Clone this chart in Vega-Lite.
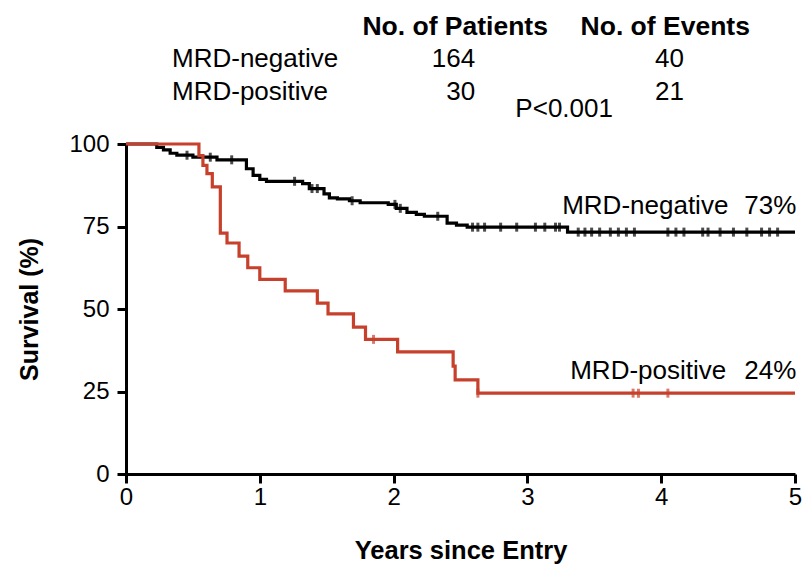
{
  "$schema": "https://vega.github.io/schema/vega-lite/v6.json",
  "autosize": {"type": "none"},
  "padding": {"left": 126, "top": 144, "right": 14, "bottom": 95},
  "width": 669,
  "height": 330,
  "background": "white",
  "config": {
    "view": {"stroke": null},
    "font": "Liberation Sans",
    "axis": {"labelFont": "Liberation Sans", "titleFont": "Liberation Sans"}
  },
  "datasets": {
    "km": [
      {"group": "MRD-negative", "t": 0, "s": 100},
      {"group": "MRD-negative", "t": 0.23, "s": 99.0},
      {"group": "MRD-negative", "t": 0.28, "s": 98.2},
      {"group": "MRD-negative", "t": 0.33, "s": 97.2},
      {"group": "MRD-negative", "t": 0.38, "s": 96.6},
      {"group": "MRD-negative", "t": 0.5, "s": 96.0},
      {"group": "MRD-negative", "t": 0.68, "s": 95.2},
      {"group": "MRD-negative", "t": 0.9, "s": 92.5},
      {"group": "MRD-negative", "t": 0.95, "s": 90.5},
      {"group": "MRD-negative", "t": 1.0, "s": 89.3},
      {"group": "MRD-negative", "t": 1.05, "s": 88.7},
      {"group": "MRD-negative", "t": 1.32, "s": 88.0},
      {"group": "MRD-negative", "t": 1.37, "s": 86.5},
      {"group": "MRD-negative", "t": 1.48, "s": 84.9},
      {"group": "MRD-negative", "t": 1.52, "s": 83.7},
      {"group": "MRD-negative", "t": 1.58, "s": 83.4},
      {"group": "MRD-negative", "t": 1.67, "s": 82.8},
      {"group": "MRD-negative", "t": 1.75, "s": 82.2},
      {"group": "MRD-negative", "t": 1.96, "s": 81.7},
      {"group": "MRD-negative", "t": 2.02, "s": 80.5},
      {"group": "MRD-negative", "t": 2.1, "s": 79.3},
      {"group": "MRD-negative", "t": 2.17, "s": 78.7},
      {"group": "MRD-negative", "t": 2.23, "s": 78.1},
      {"group": "MRD-negative", "t": 2.4, "s": 76.0},
      {"group": "MRD-negative", "t": 2.47, "s": 75.4},
      {"group": "MRD-negative", "t": 2.55, "s": 74.8},
      {"group": "MRD-negative", "t": 3.3, "s": 73.3},
      {"group": "MRD-negative", "t": 5.0, "s": 73.3},
      {"group": "MRD-positive", "t": 0, "s": 100},
      {"group": "MRD-positive", "t": 0.545, "s": 96.5},
      {"group": "MRD-positive", "t": 0.575, "s": 93.5},
      {"group": "MRD-positive", "t": 0.605, "s": 91.0},
      {"group": "MRD-positive", "t": 0.645, "s": 87.0},
      {"group": "MRD-positive", "t": 0.705, "s": 73.0},
      {"group": "MRD-positive", "t": 0.755, "s": 70.0},
      {"group": "MRD-positive", "t": 0.845, "s": 66.0},
      {"group": "MRD-positive", "t": 0.91, "s": 62.5},
      {"group": "MRD-positive", "t": 1.0, "s": 59.0},
      {"group": "MRD-positive", "t": 1.19, "s": 55.5},
      {"group": "MRD-positive", "t": 1.43, "s": 51.8},
      {"group": "MRD-positive", "t": 1.51, "s": 48.5},
      {"group": "MRD-positive", "t": 1.7, "s": 44.5},
      {"group": "MRD-positive", "t": 1.79, "s": 40.8},
      {"group": "MRD-positive", "t": 2.03, "s": 37.0},
      {"group": "MRD-positive", "t": 2.445, "s": 32.7},
      {"group": "MRD-positive", "t": 2.46, "s": 28.5},
      {"group": "MRD-positive", "t": 2.63, "s": 24.5},
      {"group": "MRD-positive", "t": 5.0, "s": 24.5}
    ],
    "cens": [
      {"group": "MRD-negative", "t": 0.456, "s": 96.6},
      {"group": "MRD-negative", "t": 0.63, "s": 96.0},
      {"group": "MRD-negative", "t": 0.79, "s": 95.2},
      {"group": "MRD-negative", "t": 1.26, "s": 88.7},
      {"group": "MRD-negative", "t": 1.39, "s": 86.5},
      {"group": "MRD-negative", "t": 1.43, "s": 86.5},
      {"group": "MRD-negative", "t": 1.69, "s": 82.8},
      {"group": "MRD-negative", "t": 2.01, "s": 81.7},
      {"group": "MRD-negative", "t": 2.05, "s": 80.5},
      {"group": "MRD-negative", "t": 2.33, "s": 78.1},
      {"group": "MRD-negative", "t": 2.59, "s": 74.8},
      {"group": "MRD-negative", "t": 2.63, "s": 74.8},
      {"group": "MRD-negative", "t": 2.68, "s": 74.8},
      {"group": "MRD-negative", "t": 2.8, "s": 74.8},
      {"group": "MRD-negative", "t": 2.92, "s": 74.8},
      {"group": "MRD-negative", "t": 3.06, "s": 74.8},
      {"group": "MRD-negative", "t": 3.13, "s": 74.8},
      {"group": "MRD-negative", "t": 3.21, "s": 74.8},
      {"group": "MRD-negative", "t": 3.24, "s": 74.8},
      {"group": "MRD-negative", "t": 3.38, "s": 73.3},
      {"group": "MRD-negative", "t": 3.43, "s": 73.3},
      {"group": "MRD-negative", "t": 3.48, "s": 73.3},
      {"group": "MRD-negative", "t": 3.54, "s": 73.3},
      {"group": "MRD-negative", "t": 3.62, "s": 73.3},
      {"group": "MRD-negative", "t": 3.68, "s": 73.3},
      {"group": "MRD-negative", "t": 3.74, "s": 73.3},
      {"group": "MRD-negative", "t": 3.8, "s": 73.3},
      {"group": "MRD-negative", "t": 4.05, "s": 73.3},
      {"group": "MRD-negative", "t": 4.11, "s": 73.3},
      {"group": "MRD-negative", "t": 4.17, "s": 73.3},
      {"group": "MRD-negative", "t": 4.31, "s": 73.3},
      {"group": "MRD-negative", "t": 4.35, "s": 73.3},
      {"group": "MRD-negative", "t": 4.44, "s": 73.3},
      {"group": "MRD-negative", "t": 4.54, "s": 73.3},
      {"group": "MRD-negative", "t": 4.64, "s": 73.3},
      {"group": "MRD-negative", "t": 4.75, "s": 73.3},
      {"group": "MRD-negative", "t": 4.81, "s": 73.3},
      {"group": "MRD-negative", "t": 4.87, "s": 73.3},
      {"group": "MRD-positive", "t": 1.85, "s": 40.8},
      {"group": "MRD-positive", "t": 2.63, "s": 24.5},
      {"group": "MRD-positive", "t": 3.79, "s": 24.5},
      {"group": "MRD-positive", "t": 3.83, "s": 24.5},
      {"group": "MRD-positive", "t": 4.05, "s": 24.5}
    ],
    "headers": [
      {"label": "No. of Patients", "t": 2.46, "s": 135.6},
      {"label": "No. of Events", "t": 4.03, "s": 135.6}
    ],
    "leftText": [
      {"label": "MRD-negative", "t": 0.344, "s": 125.8},
      {"label": "MRD-positive", "t": 0.344, "s": 115.8},
      {"label": "P<0.001", "t": 2.91, "s": 110.6},
      {"label": "MRD-negative", "t": 3.26, "s": 81.3},
      {"label": "MRD-positive", "t": 3.32, "s": 31.3}
    ],
    "rightText": [
      {"label": "164", "t": 2.61, "s": 125.8},
      {"label": "30", "t": 2.61, "s": 115.8},
      {"label": "40", "t": 4.17, "s": 125.8},
      {"label": "21", "t": 4.17, "s": 115.8},
      {"label": "73%", "t": 5.01, "s": 81.3},
      {"label": "24%", "t": 5.01, "s": 31.3}
    ]
  },
  "layer": [
    {
      "data": {"name": "km"},
      "mark": {"type": "line", "interpolate": "step-after", "strokeWidth": 3.2, "clip": false},
      "encoding": {
        "x": {
          "field": "t", "type": "quantitative",
          "scale": {"domain": [0, 5], "nice": false},
          "axis": {
            "values": [0, 1, 2, 3, 4, 5], "format": "d", "labelFlush": false, "title": "Years since Entry",
            "grid": false, "domainColor": "black", "domainWidth": 3,
            "tickColor": "black", "tickWidth": 3, "tickSize": 9,
            "labelFontSize": 24, "labelColor": "black", "labelPadding": 2,
            "titleFontSize": 25.5, "titleFontWeight": "bold", "titleColor": "black",
            "titlePadding": 29
          }
        },
        "y": {
          "field": "s", "type": "quantitative",
          "scale": {"domain": [0, 100], "nice": false},
          "axis": {
            "values": [0, 25, 50, 75, 100], "labelFlush": false, "title": "Survival (%)",
            "grid": false, "domainColor": "black", "domainWidth": 3,
            "tickColor": "black", "tickWidth": 3, "tickSize": 9,
            "labelFontSize": 24, "labelColor": "black", "labelPadding": 8,
            "titleFontSize": 25, "titleFontWeight": "bold", "titleColor": "black",
            "titlePadding": 26
          }
        },
        "color": {
          "field": "group", "type": "nominal",
          "scale": {"domain": ["MRD-negative", "MRD-positive"], "range": ["#000000", "#c6402c"]},
          "legend": null
        }
      }
    },
    {
      "data": {"name": "cens"},
      "mark": {"type": "tick", "orient": "vertical", "size": 9, "thickness": 3},
      "encoding": {
        "x": {"field": "t", "type": "quantitative"},
        "y": {"field": "s", "type": "quantitative"},
        "color": {"field": "group", "type": "nominal"}
      }
    },
    {
      "data": {"name": "headers"},
      "mark": {"type": "text", "align": "center", "baseline": "middle", "fontSize": 26.5, "fontWeight": "bold", "color": "black", "clip": false},
      "encoding": {
        "x": {"field": "t", "type": "quantitative"},
        "y": {"field": "s", "type": "quantitative"},
        "text": {"field": "label", "type": "nominal"}
      }
    },
    {
      "data": {"name": "leftText"},
      "mark": {"type": "text", "align": "left", "baseline": "middle", "fontSize": 26, "color": "black", "clip": false},
      "encoding": {
        "x": {"field": "t", "type": "quantitative"},
        "y": {"field": "s", "type": "quantitative"},
        "text": {"field": "label", "type": "nominal"}
      }
    },
    {
      "data": {"name": "rightText"},
      "mark": {"type": "text", "align": "right", "baseline": "middle", "fontSize": 26, "color": "black", "clip": false},
      "encoding": {
        "x": {"field": "t", "type": "quantitative"},
        "y": {"field": "s", "type": "quantitative"},
        "text": {"field": "label", "type": "nominal"}
      }
    }
  ]
}
